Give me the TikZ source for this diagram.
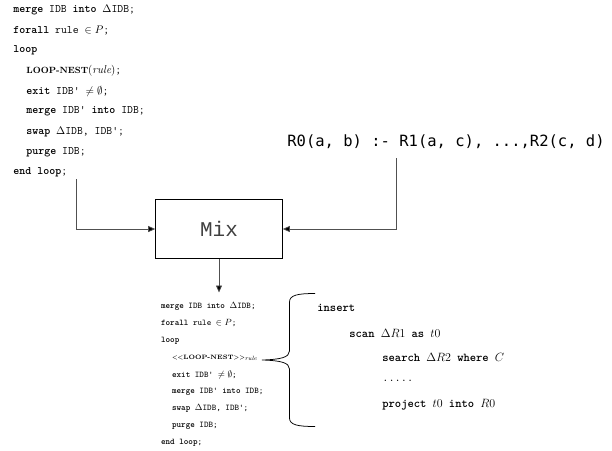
\documentclass[tikz,border=0pt]{standalone}
\usepackage{fontspec}
\usetikzlibrary{arrows.meta}

\newfontfamily\rulefont{DejaVu Sans Mono}
\newfontfamily\boxfont{Liberation Mono}
\newcommand\kw[1]{\textbf{#1}}
\newcommand\qt{\textquotesingle}

\tikzset{every picture/.style={line width=0.75pt}}
\tikzset{
	code/.style={anchor=west, inner sep=0pt, font=\fontsize{11.4}{13}\selectfont\ttfamily},
	codesmall/.style={anchor=west, inner sep=0pt, font=\fontsize{8.7}{10}\selectfont\ttfamily},
	codebig/.style={anchor=west, inner sep=0pt, font=\fontsize{12}{14}\selectfont\ttfamily},
	flow/.style={draw={rgb, 255:red, 80; green, 80; blue, 80}, -{Triangle[length=7pt,width=6pt,fill=black]}}
}

\begin{document}
\begin{tikzpicture}[x=1pt,y=1pt,yscale=-1]
	\useasboundingbox (0,0) rectangle (612,450);

	% Text Node
	\draw (13,10) node [code] (p1) {\kw{merge} IDB \kw{into} $\Delta$IDB;};
	% Text Node
	\draw (13,30.3) node [code] (p2) {\kw{forall} rule $\in P$;};
	% Text Node
	\draw (13,50.6) node [code] (p3) {\kw{loop}};
	% Text Node
	\draw (26,70.9) node [code] (p4) {{\rmfamily\bfseries\fontsize{9}{11}\selectfont LOOP-NEST}$(\mathit{rule})$;};
	% Text Node
	\draw (26,91.2) node [code] (p5) {\kw{exit} IDB\qt{} $\neq\emptyset$;};
	% Text Node
	\draw (26,111.5) node [code] (p6) {\kw{merge} IDB\qt{} \kw{into} IDB;};
	% Text Node
	\draw (26,131.8) node [code] (p7) {\kw{swap} $\Delta$IDB, IDB\qt;};
	% Text Node
	\draw (26,152.1) node [code] (p8) {\kw{purge} IDB;};
	% Text Node
	\draw (13,172.4) node [code] (p9) {\kw{end loop};};

	% Text Node
	\draw (287,142) node [anchor=west, inner sep=0pt, font=\rulefont\fontsize{15.5}{18}\selectfont] (rulehead) {R0(a, b) :- R1(a, c), ...,R2(c, d)};

	%Shape: Rectangle
	\draw (219,229) node [draw, line width=1pt, minimum width=126.6pt, minimum height=59pt, font=\boxfont\fontsize{21}{24}\selectfont, text=black!75] (mix) {Mix};

	%Straight Lines
	\coordinate (progfoot) at (76.5,179);
	\draw [flow] (progfoot) |- (mix.west);
	%Straight Lines
	\coordinate (rulefoot) at (396.7,158);
	\draw [flow] (rulefoot) |- (mix.east);
	%Straight Lines
	\coordinate (nesttop) at (219,292.5);
	\draw [flow] (mix.south) -- (nesttop);

	% Text Node
	\draw (160.7,306.5) node [codesmall] (q1) {\kw{merge} IDB \kw{into} $\Delta$IDB;};
	% Text Node
	\draw (160.7,323.5) node [codesmall] (q2) {\kw{forall} rule $\in P$;};
	% Text Node
	\draw (160.7,340.5) node [codesmall] (q3) {\kw{loop}};
	% Text Node
	\draw (171.7,357.5) node [codesmall] (q4) {{\rmfamily\bfseries\fontsize{6.3}{8}\selectfont <\kern0pt<LOOP-NEST>\kern0pt>}$_{\mathit{rule}}$};
	% Text Node
	\draw (171.7,374.5) node [codesmall] (q5) {\kw{exit} IDB\qt{} $\neq\emptyset$;};
	% Text Node
	\draw (171.7,391.5) node [codesmall] (q6) {\kw{merge} IDB\qt{} \kw{into} IDB;};
	% Text Node
	\draw (171.7,408.5) node [codesmall] (q7) {\kw{swap} $\Delta$IDB, IDB\qt;};
	% Text Node
	\draw (171.7,425.5) node [codesmall] (q8) {\kw{purge} IDB;};
	% Text Node
	\draw (160.7,442.5) node [codesmall] (q9) {\kw{end loop};};

	%Shape: Brace
	\draw (315,293.5) .. controls (298,293.5) and (289.5,295) .. (289.5,302) -- (289.5,351) .. controls (289.5,357.5) and (280,359.5) .. (262,360) .. controls (280,360.5) and (289.5,362.5) .. (289.5,369) -- (289.5,418) .. controls (289.5,425) and (298,426.5) .. (315,426.5) ;

	% Text Node
	\draw (317,308) node [codebig] (ins) {\kw{insert}};
	% Text Node
	\draw (349,333) node [codebig] (scan) {\kw{scan} $\Delta R1$ \kw{as} $t0$};
	% Text Node
	\draw (382,357) node [codebig] (search) {\kw{search} $\Delta R2$ \kw{where} $C$};
	% Text Node
	\draw (382,381) node [codebig] (dots) {.....};
	% Text Node
	\draw (382,405) node [codebig] (proj) {\kw{project} $t0$ \kw{into} $R0$};

\end{tikzpicture}
\end{document}
